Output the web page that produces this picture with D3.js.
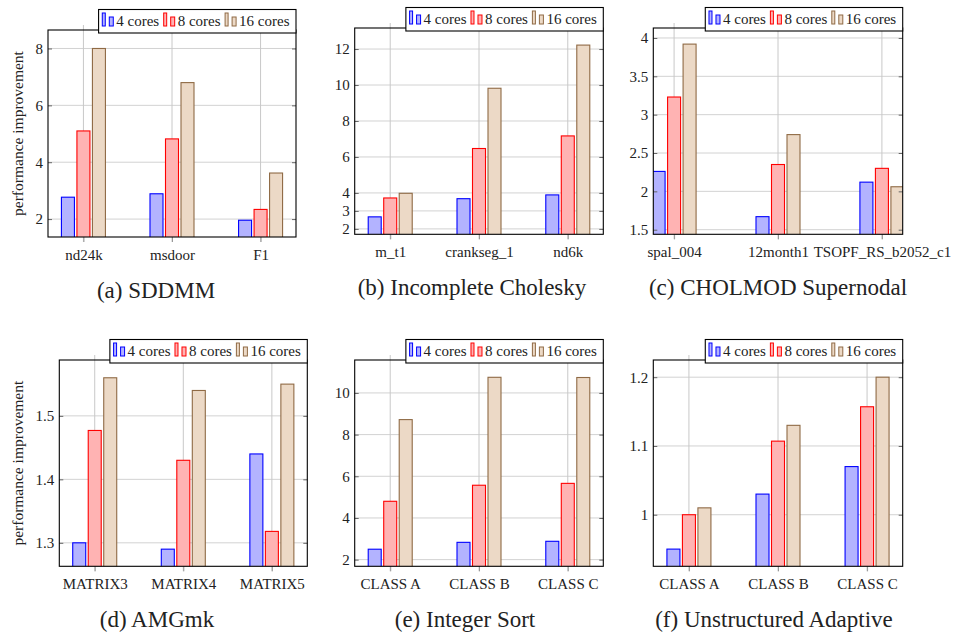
<!DOCTYPE html>
<html>
<head>
<meta charset="utf-8">
<script src="https://cdn.jsdelivr.net/npm/d3@7"></script>
<style>
  body { margin: 0; background: #fff; }
  svg { display: block; }
</style>
</head>
<body>
<script>
(function (d3) {
  'use strict'

  const W = 953
  const H = 637
  const FONT = '"Liberation Serif", "DejaVu Serif", "Times New Roman", serif'

  // data
  const seriesNames = ['4 cores', '8 cores', '16 cores']
  const captions = ['(a) SDDMM', '(b) Incomplete Cholesky', '(c) CHOLMOD Supernodal',
    '(d) AMGmk', '(e) Integer Sort', '(f) Unstructured Adaptive']
  const categories = [
    ['nd24k', 'msdoor', 'F1'],
    ['m_t1', 'crankseg_1', 'nd6k'],
    ['spal_004', '12month1', 'TSOPF_RS_b2052_c1'],
    ['MATRIX3', 'MATRIX4', 'MATRIX5'],
    ['CLASS A', 'CLASS B', 'CLASS C'],
    ['CLASS A', 'CLASS B', 'CLASS C']
  ]
  const cores4 = [[2.77, 2.89, 1.96], [2.67, 3.68, 3.89], [2.26, 1.67, 2.12],
    [1.30, 1.29, 1.44], [2.50, 2.83, 2.88], [0.95, 1.03, 1.07]]
  const cores8 = [[5.10, 4.82, 2.34], [3.72, 6.47, 7.17], [3.23, 2.35, 2.30],
    [1.477, 1.43, 1.318], [4.80, 5.57, 5.66], [1.00, 1.107, 1.157]]
  const cores16 = [[8.00, 6.80, 3.62], [3.98, 9.82, 12.22], [3.92, 2.74, 2.06],
    [1.56, 1.54, 1.55], [8.72, 10.75, 10.74], [1.01, 1.13, 1.20]]
  const yTicks = [[2, 4, 6, 8], [2, 3, 4, 6, 8, 10, 12], [1.5, 2, 2.5, 3, 3.5, 4],
    [1.3, 1.4, 1.5], [2, 4, 6, 8, 10], [1, 1.1, 1.2]]
  const yLimits = [[1.37, 8.65], [1.7, 13.17], [1.44, 4.13],
    [1.263, 1.588], [1.68, 11.58], [0.925, 1.225]]

  // layout
  const strokes = ['#0000ff', '#ff0000', '#8f6a45']
  const fills = ['#b3b3ff', '#ffb3b3', '#ecd9c6']
  const frames = [
    { l: 48, t: 30, r: 296, b: 237, pad: 0.4 },
    { l: 354.7, t: 28, r: 603.3, b: 234.3, pad: 0.4 },
    { l: 653.3, t: 28, r: 902.7, b: 234.3, pad: 0.2 },
    { l: 59.3, t: 360, r: 307.3, b: 566.3, pad: 0.4 },
    { l: 354.7, t: 360, r: 603.3, b: 566.3, pad: 0.4 },
    { l: 653.3, t: 360, r: 902.7, b: 566.3, pad: 0.4 }
  ]
  const captionX = [156, 472, 778, 157, 465, 774]
  const barW = 13
  const barStep = 15.5

  const svg = d3.select('body').append('svg')
    .attr('width', W)
    .attr('height', H)
    .style('font-family', FONT)

  const defs = svg.append('defs')

  frames.forEach(function (f, i) {
    const g = svg.append('g')
    const x = d3.scalePoint().domain(categories[i]).range([f.l, f.r]).padding(f.pad)
    const y = d3.scaleLinear().domain(yLimits[i]).range([f.b, f.t])
    const values = [cores4[i], cores8[i], cores16[i]]

    // grid
    g.append('g').selectAll('line')
      .data(yTicks[i]).enter().append('line')
      .attr('x1', f.l).attr('x2', f.r)
      .attr('y1', d => y(d)).attr('y2', d => y(d))
      .attr('stroke', '#d2d2d2')
    g.append('g').selectAll('line')
      .data(categories[i]).enter().append('line')
      .attr('x1', d => x(d)).attr('x2', d => x(d))
      .attr('y1', f.t - 5).attr('y2', f.b + 5)
      .attr('stroke', '#c8c8c8')

    // bars
    defs.append('clipPath').attr('id', 'clip' + i)
      .append('rect')
      .attr('x', f.l).attr('y', f.t)
      .attr('width', f.r - f.l).attr('height', f.b - f.t)

    const bars = g.append('g').attr('clip-path', 'url(#clip' + i + ')')
    values.forEach(function (vals, s) {
      bars.append('g').selectAll('rect')
        .data(vals).enter().append('rect')
        .attr('x', (d, k) => x(categories[i][k]) + (s - 1) * barStep - barW / 2)
        .attr('width', barW)
        .attr('y', d => y(d))
        .attr('height', d => f.b + 2 - y(d))
        .attr('fill', fills[s])
        .attr('stroke', strokes[s])
        .attr('stroke-width', 1.1)
    })

    // y ticks (inward, both sides)
    const yl = g.append('g')
      .attr('transform', 'translate(' + f.l + ',0)')
      .call(d3.axisLeft(y).tickValues(yTicks[i]).tickFormat(d => String(d))
        .tickSizeInner(-4).tickSizeOuter(0).tickPadding(5))
    const yr = g.append('g')
      .attr('transform', 'translate(' + f.r + ',0)')
      .call(d3.axisRight(y).tickValues(yTicks[i]).tickFormat('')
        .tickSizeInner(-4).tickSizeOuter(0))
    const xb = g.append('g')
      .attr('transform', 'translate(0,' + f.b + ')')
      .call(d3.axisBottom(x).tickSizeInner(5).tickSizeOuter(0).tickPadding(7.5))
    ;[yl, yr, xb].forEach(function (a) {
      a.attr('font-family', FONT).attr('font-size', 15)
      a.select('.domain').remove()
      a.selectAll('.tick line').attr('stroke', '#666')
      a.selectAll('.tick text').attr('fill', '#222')
    })
    xb.selectAll('.tick line').attr('stroke', '#999')

    // frame
    g.append('rect')
      .attr('x', f.l).attr('y', f.t)
      .attr('width', f.r - f.l).attr('height', f.b - f.t)
      .attr('fill', 'none')
      .attr('stroke', '#000')
      .attr('stroke-width', 1.1)

    // legend
    const leg = g.append('g')
    const box = leg.append('rect')
      .attr('y', f.t - 20.5)
      .attr('height', 23.5)
      .attr('fill', '#fff')
      .attr('stroke', '#000')
      .attr('stroke-width', 1.1)
    let cx = 3.7
    seriesNames.forEach(function (name, s) {
      leg.append('rect')
        .attr('x', cx).attr('y', f.t - 17).attr('width', 3).attr('height', 13)
        .attr('fill', fills[s]).attr('stroke', strokes[s])
      leg.append('rect')
        .attr('x', cx + 7).attr('y', f.t - 13).attr('width', 4).attr('height', 9)
        .attr('fill', fills[s]).attr('stroke', strokes[s])
      const t = leg.append('text')
        .attr('x', cx + 14).attr('y', f.t - 4)
        .attr('font-size', 15)
        .attr('fill', '#222')
        .text(name)
      cx += 14 + t.node().getComputedTextLength() + 4.5
    })
    const bw = cx + 2
    box.attr('x', 0).attr('width', bw)
    leg.attr('transform', 'translate(' + (f.r - bw) + ',0)')

    // y label
    if (i === 0 || i === 3) {
      g.append('text')
        .attr('transform', 'translate(23,' + (f.t + f.b) / 2 + ') rotate(-90)')
        .attr('text-anchor', 'middle')
        .attr('font-size', 15.5)
        .attr('fill', '#222')
        .text('performance improvement')
    }

    // caption
    g.append('text')
      .attr('x', captionX[i])
      .attr('y', f.b + 61)
      .attr('text-anchor', 'middle')
      .attr('font-size', 23)
      .attr('fill', '#222')
      .text(captions[i])
  })

}(d3))
</script>
</body>
</html>
